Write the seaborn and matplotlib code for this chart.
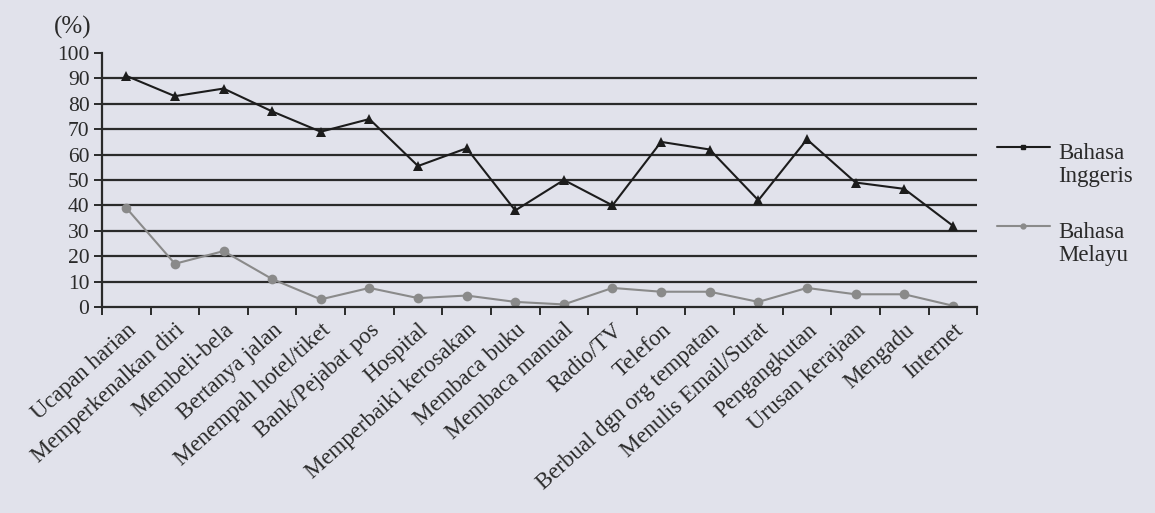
import matplotlib
matplotlib.use("Agg")
import matplotlib.pyplot as plt
import seaborn as sns
import pandas as pd
from matplotlib.ticker import FixedLocator
from matplotlib.lines import Line2D

categories = ["Ucapan harian", "Memperkenalkan diri", "Membeli-bela", "Bertanya jalan",
              "Menempah hotel/tiket", "Bank/Pejabat pos", "Hospital", "Memperbaiki kerosakan",
              "Membaca buku", "Membaca manual", "Radio/TV", "Telefon",
              "Berbual dgn org tempatan", "Menulis Email/Surat", "Pengangkutan",
              "Urusan kerajaan", "Mengadu", "Internet"]
inggeris = [91, 83, 86, 77, 69, 74, 55.5, 62.5, 38, 50, 40, 65, 62, 42, 66, 49, 46.5, 32]
melayu = [39, 17, 22, 11, 3, 7.5, 3.5, 4.5, 2, 1, 7.5, 6, 6, 2, 7.5, 5, 5, 0.5]
series_names = ["Bahasa Inggeris", "Bahasa Melayu"]
legend_labels = ["Bahasa\nInggeris", "Bahasa\nMelayu"]
yticks = list(range(0, 101, 10))

df = pd.DataFrame({
    "cat": categories * 2,
    "val": inggeris + melayu,
    "lang": [series_names[0]] * len(categories) + [series_names[1]] * len(categories),
})

bg = "#e1e2eb"
sns.set_theme(style="white")
plt.rcParams["font.family"] = ["Liberation Serif", "DejaVu Serif"]

fig = plt.figure(figsize=(11.55, 5.13), dpi=100, facecolor=bg)
ax = fig.add_axes([0.0883, 0.4016, 0.7577, 0.4951])
ax.set_facecolor(bg)

colors = {series_names[0]: "#1c1c1c", series_names[1]: "#8a8a8a"}
sns.lineplot(data=df, x="cat", y="val", hue="lang", style="lang",
             markers={series_names[0]: "^", series_names[1]: "o"}, dashes=False,
             palette=colors, markersize=7, linewidth=1.5, markeredgewidth=0,
             legend=False, ax=ax, sort=False)

ax.set_xlim(-0.5, len(categories) - 0.5)
ax.set_ylim(0, 100)
for v in yticks[1:-1]:
    ax.axhline(v, color="#2a2a2a", lw=1.6, zorder=0)

ax.yaxis.set_major_locator(FixedLocator(yticks))
ax.set_yticklabels([str(v) for v in yticks])
ax.set_xticks(range(len(categories)))
ax.set_xticklabels(categories, rotation=42, ha="right", rotation_mode="anchor")
ax.xaxis.set_minor_locator(FixedLocator([i - 0.5 for i in range(len(categories) + 1)]))
ax.tick_params(axis="x", which="major", length=0, pad=9, labelsize=16.5, labelcolor="#2a2a2a")
ax.tick_params(axis="x", which="minor", length=6, width=1.4, color="#2a2a2a", direction="out", bottom=True)
ax.tick_params(axis="y", which="major", length=6, width=1.4, color="#2a2a2a", direction="out",
               left=True, labelsize=15.5, pad=3, labelcolor="#2a2a2a")
for s in ["top", "right"]:
    ax.spines[s].set_visible(False)
for s in ["left", "bottom"]:
    ax.spines[s].set_color("#2a2a2a")
    ax.spines[s].set_linewidth(1.6)
ax.set_xlabel("")
ax.set_ylabel("")

fig.text(0.047, 0.935, "(%)", fontsize=18, color="#2a2a2a")

# legend drawn beside the axes: handle at the level of the first label line
legend_markers = ["s", "o"]
legend_y = [0.7135, 0.5595]
for name, lab, mk, ly in zip(series_names, legend_labels, legend_markers, legend_y):
    fig.add_artist(Line2D([0.863, 0.909], [ly, ly], transform=fig.transFigure,
                          color=colors[name], lw=1.5))
    fig.add_artist(Line2D([0.886], [ly], transform=fig.transFigure, color=colors[name],
                          marker=mk, markersize=3.5, lw=0))
    fig.text(0.916, ly + 0.008, lab, fontsize=16.5, color="#2a2a2a", va="top",
             linespacing=1.15)

fig.savefig("out.png", dpi=100, facecolor=bg)
